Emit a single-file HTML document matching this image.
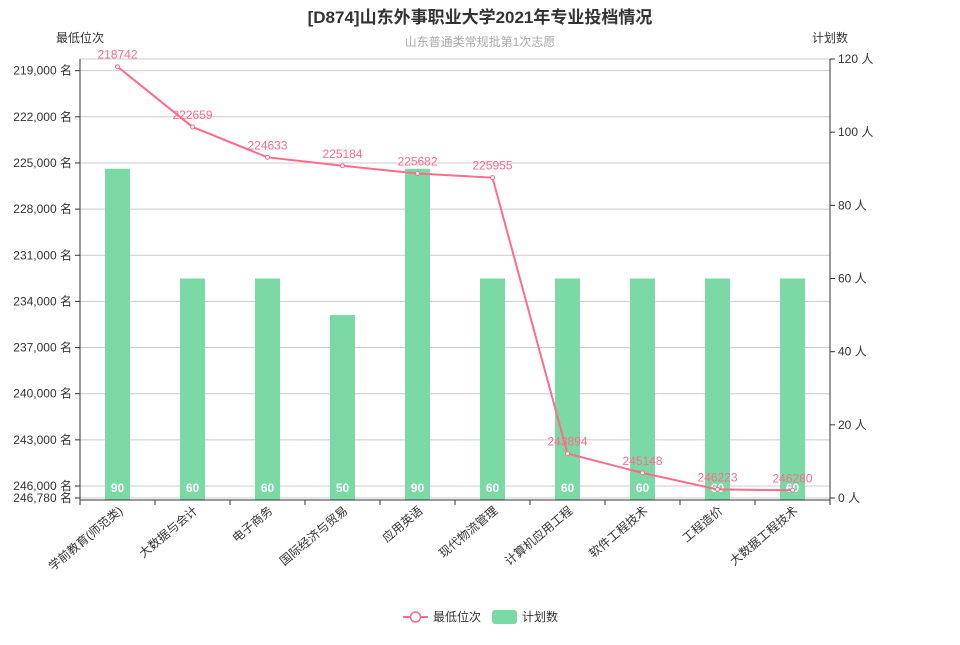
<!DOCTYPE html>
<html><head><meta charset="utf-8"><style>
body{margin:0;background:#fff;font-family:"Liberation Sans","Noto Sans CJK SC",sans-serif}
svg text{font-family:"Liberation Sans","Noto Sans CJK SC",sans-serif}
</style></head><body>
<svg id="c" width="960" height="640" xmlns="http://www.w3.org/2000/svg">
<text x="480" y="23" text-anchor="middle" font-size="17" font-weight="bold" fill="#333">[D874]山东外事职业大学2021年专业投档情况</text>
<text x="480" y="46" text-anchor="middle" font-size="12" fill="#aaa">山东普通类常规批第1次志愿</text>
<text x="80" y="42" text-anchor="middle" font-size="12" fill="#333">最低位次</text>
<text x="830" y="42" text-anchor="middle" font-size="12" fill="#333">计划数</text>
<g id="grid"></g><g id="bars"></g><g id="line"></g><g id="axes"></g>
<g>
<line x1="403" y1="617" x2="428" y2="617" stroke="#ff6b8b" stroke-width="2"/>
<circle cx="415.5" cy="617" r="5" fill="#fff" stroke="#ff6b8b" stroke-width="1.5"/>
<text x="433" y="621" font-size="12" fill="#333">最低位次</text>
<rect x="492" y="610" width="25" height="14" rx="3" fill="#7bd9a5"/>
<text x="522" y="621" font-size="12" fill="#333">计划数</text>
</g>
</svg>
<script>
const categories=["学前教育(师范类)","大数据与会计","电子商务","国际经济与贸易","应用英语","现代物流管理","计算机应用工程","软件工程技术","工程造价","大数据工程技术"];
const rankValues=[218742,222659,224633,225184,225682,225955,243894,245148,246223,246280];
const planValues=[90,60,60,50,90,60,60,60,60,60];
const leftTicks=[219000,222000,225000,228000,231000,234000,237000,240000,243000,246000,246780];
const rightTicks=[0,20,40,60,80,100,120];
const NS="http://www.w3.org/2000/svg";
const L=80,R=830,T=59,B=498;
const rMin=218242,rMax=246780;
const yL=v=>T+(v-rMin)/(rMax-rMin)*(B-T);
const yR=v=>B-v/120*(B-T);
const bw=(R-L)/categories.length;
const xC=i=>L+bw*(i+0.5);
function mk(t,a,p,txt){const e=document.createElementNS(NS,t);for(const k in a)e.setAttribute(k,a[k]);if(txt!=null)e.textContent=txt;document.getElementById(p).appendChild(e);return e;}
leftTicks.forEach((v,i)=>{
 const y=yL(v);
 const g=mk('line',{x1:L,x2:R,y1:y,y2:y,stroke:'#ccc','stroke-width':1},'grid');
 
 
 mk('line',{x1:L-5,x2:L,y1:y,y2:y,stroke:'#333'},'axes');
 const t=mk('text',{x:L-8,y:y+4,'text-anchor':'end','font-size':12,fill:'#333'},'axes',v.toLocaleString('en-US')+' 名');
 
 
});
mk('line',{x1:L,x2:R,y1:T,y2:T,stroke:'#ccc'},'grid');
rightTicks.forEach(v=>{
 const y=yR(v);
 mk('line',{x1:R,x2:R+5,y1:y,y2:y,stroke:'#333'},'axes');
 const t=mk('text',{x:R+8,y:y+4,'font-size':12,fill:'#333'},'axes',v+' 人');
 
 
});
mk('line',{x1:L,x2:L,y1:T,y2:B+2,stroke:'#333'},'axes');
mk('line',{x1:R,x2:R,y1:T,y2:B+2,stroke:'#333'},'axes');
mk('line',{x1:L,x2:R,y1:B+2,y2:B+2,stroke:'#333'},'axes');
for(let i=0;i<=categories.length;i++){const x=L+bw*i;mk('line',{x1:x,x2:x,y1:B+2,y2:B+7,stroke:'#333'},'axes');}
categories.forEach((c,i)=>{
 const x=xC(i),y=B+14;
 const t=mk('text',{x:x+6,y:y,'text-anchor':'end','font-size':12,fill:'#333',transform:`rotate(-40 ${x+6} ${y})`},'axes',c);
 
 
});
planValues.forEach((v,i)=>{
 const y=yR(v);
 const r=mk('rect',{x:xC(i)-12.5,y:y,width:25,height:B+2-y,fill:'#7bd9a5'},'bars');
 
 
 mk('text',{x:xC(i),y:B-6,'text-anchor':'middle','font-size':12,'font-weight':'bold',fill:'#fff'},'bars',v);
});
const pts=rankValues.map((v,i)=>[xC(i),yL(v)]);
const pl=mk('polyline',{points:pts.map(p=>p.join(',')).join(' '),fill:'none',stroke:'#ff6b8b','stroke-width':2},'line');


pts.forEach((p,i)=>{
 const c=mk('circle',{cx:p[0],cy:p[1],r:2,fill:'#fff',stroke:'#ff6b8b','stroke-width':1},'line');
 
 
 mk('text',{x:p[0],y:p[1]-8,'text-anchor':'middle','font-size':12,fill:'#ff6b8b'},'line',rankValues[i]);
});
</script>
</body></html>
